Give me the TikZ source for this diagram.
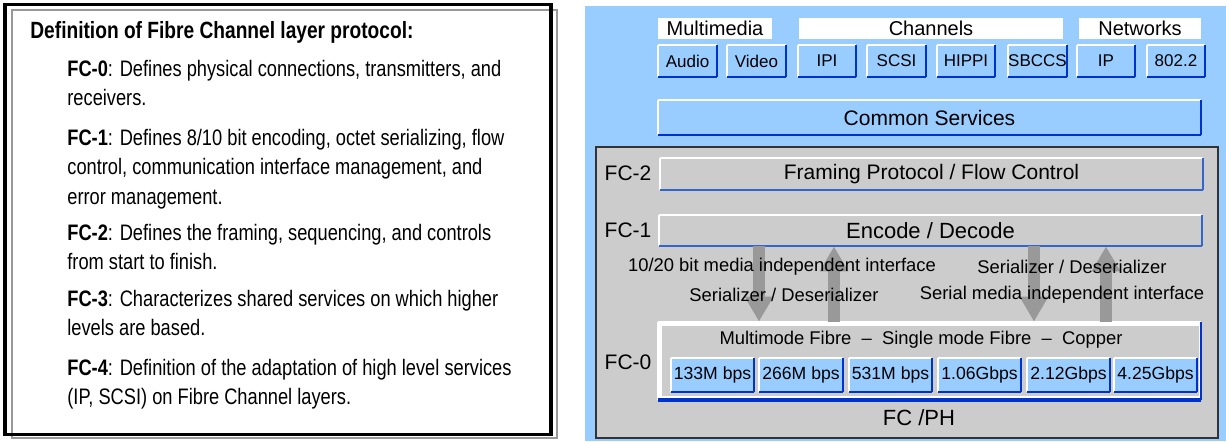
\documentclass[tikz,border=0pt]{standalone}
\usepackage{fontspec}
\setmainfont{Liberation Sans}
\newfontfamily\condfont{Liberation Sans}[FakeStretch=0.815]
\usetikzlibrary{positioning,arrows.meta}
\definecolor{skyblue}{HTML}{99CCFF}
\definecolor{panelgray}{HTML}{CCCCCC}
\definecolor{btnblue}{HTML}{0033CC}
\definecolor{edgeblue}{HTML}{3366CC}
\definecolor{arrowgray}{HTML}{999999}
\tikzset
{
    bevel/.style 2 args = {fill=#1, inner sep=0pt, append after command={
        (\tikzlastnode.south west) edge[white, line width=1pt] (\tikzlastnode.north west)
        (\tikzlastnode.north west) edge[white, line width=1pt] (\tikzlastnode.north east)
        (\tikzlastnode.north east) edge[#2, line width=1pt] (\tikzlastnode.south east)
        (\tikzlastnode.south east) edge[#2, line width=1pt] (\tikzlastnode.south west)}},
    tag/.style    = {fill=white, inner sep=0pt, minimum height=10.5pt, font=\fontsize{10}{12}\selectfont},
    btn/.style    = {bevel={skyblue}{btnblue}, minimum width=29pt, minimum height=16pt, font=\fontsize{8.5}{10}\selectfont},
    speed/.style  = {bevel={skyblue}{btnblue}, minimum width=41.5pt, minimum height=17pt, font=\fontsize{8.8}{10}\selectfont},
    layer/.style  = {bevel={panelgray}{edgeblue}, minimum width=271.5pt, minimum height=16pt, font=\fontsize{10.5}{12}\selectfont},
    fclabel/.style= {inner sep=0pt, font=\fontsize{10.5}{12}\selectfont},
    note/.style   = {inner sep=0pt, font=\fontsize{9.2}{11}\selectfont},
    para/.style   = {anchor=north west, inner sep=0pt, align=left, font=\condfont\fontsize{11.2}{14.75}\selectfont},
    fatarrow/.style = {arrowgray, line width=6pt, -{Triangle[width=13.5pt, length=12.5pt]}}
}

\begin{document}
\begin{tikzpicture}[x=0.5pt, y=-0.5pt]
    \useasboundingbox (0,0) rectangle (1226,441);

    % left: definitions
    \draw[black, line width=1.75pt, fill=white] (5,4.5) rectangle (551,434.5);
    \draw[arrowgray, line width=1pt] (12,10) rectangle (557,438);
    \draw[black, line width=1.75pt] (5,4.5) rectangle (551,434.5);

    \node[anchor=west, inner sep=0pt, font=\condfont\bfseries\fontsize{11.75}{13}\selectfont] (title) at (30,32) {Definition of Fibre Channel layer protocol:};
    \node[para] (defzero) at (67,59.5) {\textbf{FC-0}: Defines physical connections, transmitters, and\\receivers.};
    \node[para] (defone) at (67,128.5) {\textbf{FC-1}: Defines 8/10 bit encoding, octet serializing, flow\\control, communication interface management, and\\error management.};
    \node[para] (deftwo) at (67,223.5) {\textbf{FC-2}: Defines the framing, sequencing, and controls\\from start to finish.};
    \node[para] (defthree) at (67,289.5) {\textbf{FC-3}: Characterizes shared services on which higher\\levels are based.};
    \node[para] (deffour) at (67,358.5) {\textbf{FC-4}: Definition of the adaptation of high level services\\(IP, SCSI) on Fibre Channel layers.};

    % right: layer stack
    \fill[skyblue] (585,6) rectangle (1226,441);

    \node[tag, minimum width=57pt] (mmlabel) at (715,28.5) {Multimedia};
    \node[tag, minimum width=132pt] (chlabel) at (931,28.5) {Channels};
    \node[tag, minimum width=61pt] (netlabel) at (1140,28.5) {Networks};

    \node[btn] (audio) at (687.5,61) {Audio};
    \node[btn] (video) at (756.5,61) {Video};
    \node[btn] (ipi) at (827,61) {IPI};
    \node[btn] (scsi) at (896.5,61) {SCSI};
    \node[btn] (hippi) at (966,61) {HIPPI};
    \node[btn] (sbccs) at (1037.5,61) {SBCCS};
    \node[btn] (ip) at (1106,61) {IP};
    \node[btn] (ieee) at (1176,61) {802.2};

    \node[layer, bevel={skyblue}{btnblue}, minimum height=17.5pt] (common) at (929.5,117.5) {Common Services};

    \draw[fill=panelgray, draw=black!80, line width=1.2pt] (596,147) rectangle (1218,438);

    \node[fclabel] (lbltwo) at (628,173) {FC-2};
    \node[layer] (fctwo) at (931.5,174) {Framing Protocol / Flow Control};
    \node[fclabel] (lblone) at (628,230) {FC-1};
    \node[layer, minimum height=15.5pt, font=\fontsize{11}{13}\selectfont] (fcone) at (930.5,230.5) {Encode / Decode};

    \node[bevel={white}{btnblue}, minimum width=271.5pt, minimum height=39pt,
          path picture={\fill[panelgray] ([shift={(2pt,-2pt)}]path picture bounding box.north west) rectangle ([shift={(-1pt,2pt)}]path picture bounding box.south east);}] (fczero) at (929.5,361) {};
    \draw[btnblue, line width=2pt] (fczero.south west) -- (fczero.south east);
    \node[fclabel] (lblzero) at (628,362) {FC-0};
    \node[note] (media) at (921,340) {Multimode Fibre \ -- \ Single mode Fibre \ -- \ Copper};

    \node[speed] (s1) at (712.5,375) {133M bps};
    \node[speed] (s2) at (801,375) {266M bps};
    \node[speed] (s3) at (890.5,375) {531M bps};
    \node[speed] (s4) at (979.5,375) {1.06Gbps};
    \node[speed] (s5) at (1068.5,375) {2.12Gbps};
    \node[speed] (s6) at (1155.5,375) {4.25Gbps};

    \node[inner sep=0pt, font=\fontsize{11}{13}\selectfont] (fcph) at (919,418) {FC /PH};

    % arrows between FC-1 and FC-0
    \coordinate (a1) at (759,0);
    \coordinate (a2) at (834,0);
    \coordinate (a3) at (1034,0);
    \coordinate (a4) at (1106,0);
    \draw[fatarrow] (fcone.south -| a1) -- (fczero.north -| a1);
    \draw[fatarrow] (fczero.north -| a2) -- (fcone.south -| a2);
    \draw[fatarrow] (fcone.south -| a3) -- (fczero.north -| a3);
    \draw[fatarrow] (fczero.north -| a4) -- (fcone.south -| a4);

    \node[note] (mii) at (782,267) {10/20 bit media independent interface};
    \node[note] (serl) at (784,295) {Serializer / Deserializer};
    \node[note] (serr) at (1072,267) {Serializer / Deserializer};
    \node[note] (smii) at (1062,295) {Serial media independent interface};
\end{tikzpicture}
\end{document}
